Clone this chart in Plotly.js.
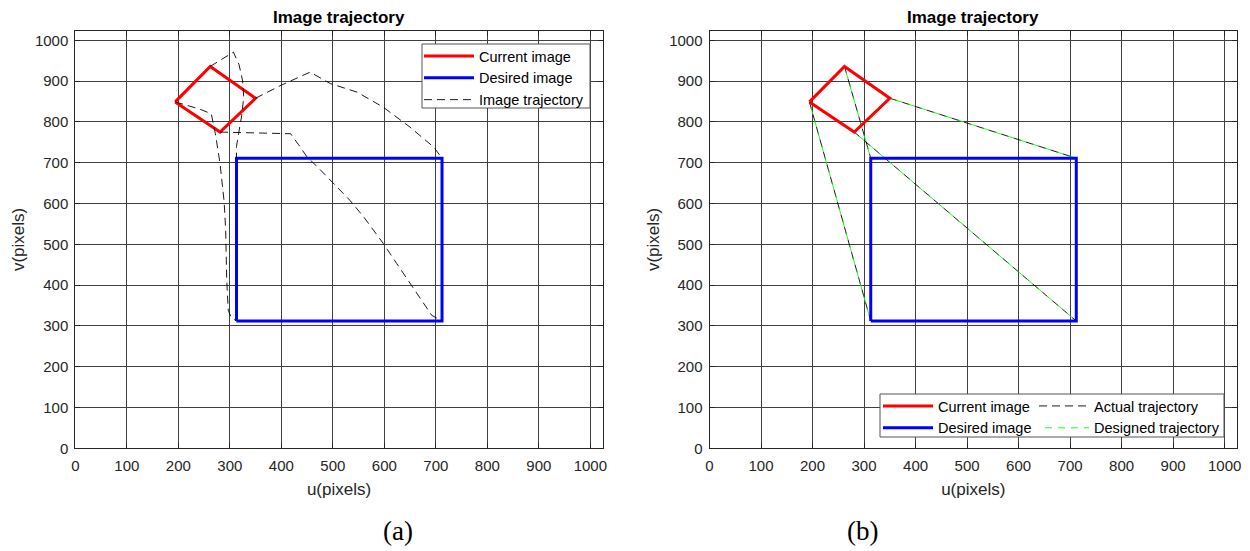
<!DOCTYPE html>
<html>
<head>
<meta charset="utf-8">
<script src="https://cdn.plot.ly/plotly-3.0.1.min.js"></script>
<style>html,body{margin:0;padding:0;background:#fff;}#chart{width:1250px;height:551px;}</style>
</head>
<body>
<div id="chart"></div>
<script>
// ---- data (image coordinates in pixels) ----
const currentU = [194, 262, 350, 281, 194];
const currentV = [849, 936, 858, 775, 849];
const desiredU = [313, 712, 712, 313, 313];
const desiredV = [312, 312, 711, 711, 312];

// (a) curved image trajectories of the four feature points
const trajA1U = [194, 215, 240, 264, 268, 272, 281, 289, 292, 294, 297, 303, 313];
const trajA1V = [849, 842, 832, 820, 795, 771, 698, 604, 534, 412, 338, 320, 312];
const trajA2U = [262, 285, 307, 318, 325, 327, 323, 317, 313, 313];
const trajA2V = [936, 955, 971, 940, 900, 860, 815, 771, 740, 711];
const trajA3U = [350, 400, 456, 495, 547, 598, 650, 696, 712];
const trajA3V = [858, 890, 922, 894, 873, 836, 787, 738, 711];
const trajA4U = [281, 330, 380, 418, 433, 450, 470, 500, 533, 560, 598, 624, 650, 673, 692, 712];
const trajA4V = [775, 773, 772, 771, 745, 714, 690, 652, 608, 567, 502, 453, 404, 363, 326, 312];

// (b) straight trajectories (actual and designed coincide)
const trajB1U = [194, 313], trajB1V = [849, 312];
const trajB2U = [262, 313], trajB2V = [936, 711];
const trajB3U = [350, 712], trajB3V = [858, 711];
const trajB4U = [281, 712], trajB4V = [775, 312];

const tickVals = [0, 100, 200, 300, 400, 500, 600, 700, 800, 900, 1000];
const axisRange = [0, 1024];
const chartTitle = 'Image trajectory';
const uLabel = 'u(pixels)';
const vLabel = 'v(pixels)';
const panelLabels = ['(a)', '(b)'];
const names = ['Current image', 'Desired image', 'Image trajectory', 'Actual trajectory', 'Designed trajectory'];

function joinSegs(list) {
  const out = [];
  list.forEach((seg, i) => { if (i) out.push(null); seg.forEach(v => out.push(v)); });
  return out;
}

// ---- layout helpers ----
const W = 1250, H = 551;
const px = x => x / W;
const py = y => (H - y) / H;
const FONT = 'Liberation Sans, Arial, sans-serif';

function axis(domain, anchor, title, isX) {
  return {
    domain: domain, anchor: anchor, range: axisRange, autorange: false,
    tickmode: 'array', tickvals: tickVals, ticktext: tickVals.map(String),
    ticks: 'inside', ticklen: 5, tickcolor: '#262626', tickwidth: 1,
    showline: true, linecolor: '#262626', linewidth: 1, mirror: 'ticks',
    showgrid: true, gridcolor: '#404040', gridwidth: 1, zeroline: false,
    tickfont: {family: FONT, size: 15, color: '#262626'},
    ticklabelstandoff: isX ? 4 : 3,
    title: {text: title, font: {family: FONT, size: 17, color: '#262626'}, standoff: isX ? 9 : 5},
    fixedrange: true
  };
}

const red = {color: '#ff0000', width: 3};
const blue = {color: '#0000ff', width: 3};

const traces = [
  {x: currentU, y: currentV, xaxis: 'x', yaxis: 'y', mode: 'lines', name: names[0], line: red, legend: 'legend'},
  {x: desiredU, y: desiredV, xaxis: 'x', yaxis: 'y', mode: 'lines', name: names[1], line: blue, legend: 'legend'},
  {x: joinSegs([trajA1U, trajA2U, trajA3U, trajA4U]), y: joinSegs([trajA1V, trajA2V, trajA3V, trajA4V]),
   xaxis: 'x', yaxis: 'y', mode: 'lines', name: names[2], connectgaps: false,
   line: {color: '#000000', width: 0.9, dash: '8px,5px'}, legend: 'legend'},

  {x: joinSegs([trajB1U, trajB2U, trajB3U, trajB4U]), y: joinSegs([trajB1V, trajB2V, trajB3V, trajB4V]),
   xaxis: 'x2', yaxis: 'y2', mode: 'lines', name: names[3], connectgaps: false,
   line: {color: '#000000', width: 0.9, dash: '8px,5px'}, legend: 'legend3'},
  {x: joinSegs([trajB1U, trajB2U, trajB3U, trajB4U]), y: joinSegs([trajB1V, trajB2V, trajB3V, trajB4V]),
   xaxis: 'x2', yaxis: 'y2', mode: 'lines', name: names[4], connectgaps: false,
   line: {color: '#00ff00', width: 0.9, dash: '0px,6px,7px,0px'}, legend: 'legend3'},
  {x: currentU, y: currentV, xaxis: 'x2', yaxis: 'y2', mode: 'lines', name: names[0], line: red, legend: 'legend2'},
  {x: desiredU, y: desiredV, xaxis: 'x2', yaxis: 'y2', mode: 'lines', name: names[1], line: blue, legend: 'legend2'}
];

const yDom = [py(448.3), py(30.5)];
const legendFont = {family: FONT, size: 14.5, color: '#000000'};
function legendAt(x, y) {
  return {x: px(x), y: py(y), xref: 'paper', yref: 'paper', xanchor: 'left', yanchor: 'top',
    bgcolor: 'rgba(0,0,0,0)', borderwidth: 0, font: legendFont, itemwidth: 50,
    tracegroupgap: 0, orientation: 'v', traceorder: 'normal', itemclick: false, itemdoubleclick: false};
}
function boxShape(x0, y0, x1, y1) {
  return {type: 'rect', xref: 'paper', yref: 'paper', x0: px(x0), x1: px(x1), y0: py(y1), y1: py(y0),
    line: {color: '#555555', width: 1}, fillcolor: '#ffffff', layer: 'above'};
}

const layout = {
  width: W, height: H,
  margin: {l: 0, r: 0, t: 0, b: 0},
  paper_bgcolor: '#ffffff', plot_bgcolor: '#ffffff',
  font: {family: FONT},
  xaxis: axis([px(75.3), px(602.7)], 'y', uLabel, true),
  yaxis: axis(yDom, 'x', vLabel, false),
  xaxis2: axis([px(709.5), px(1237)], 'y2', uLabel, true),
  yaxis2: axis(yDom, 'x2', vLabel, false),
  showlegend: true,
  legend: legendAt(419, 40),
  legend2: legendAt(878, 390),
  legend3: legendAt(1034, 390),
  shapes: [boxShape(422, 44, 590, 108), boxShape(880, 394, 1224, 437)],
  annotations: [
    {text: '<b>' + chartTitle + '</b>', xref: 'paper', yref: 'paper', x: px(339), y: py(17.3), xanchor: 'center', yanchor: 'middle', showarrow: false, font: {family: FONT, size: 17, color: '#000000'}},
    {text: '<b>' + chartTitle + '</b>', xref: 'paper', yref: 'paper', x: px(973.2), y: py(17.3), xanchor: 'center', yanchor: 'middle', showarrow: false, font: {family: FONT, size: 17, color: '#000000'}},
    {text: panelLabels[0], xref: 'paper', yref: 'paper', x: px(398), y: py(531), xanchor: 'center', yanchor: 'middle', showarrow: false, font: {family: 'Liberation Serif, Times New Roman, serif', size: 27, color: '#000000'}},
    {text: panelLabels[1], xref: 'paper', yref: 'paper', x: px(862), y: py(531), xanchor: 'center', yanchor: 'middle', showarrow: false, font: {family: 'Liberation Serif, Times New Roman, serif', size: 27, color: '#000000'}}
  ]
};

Plotly.newPlot('chart', traces, layout, {displayModeBar: false, staticPlot: true});
</script>
</body>
</html>
